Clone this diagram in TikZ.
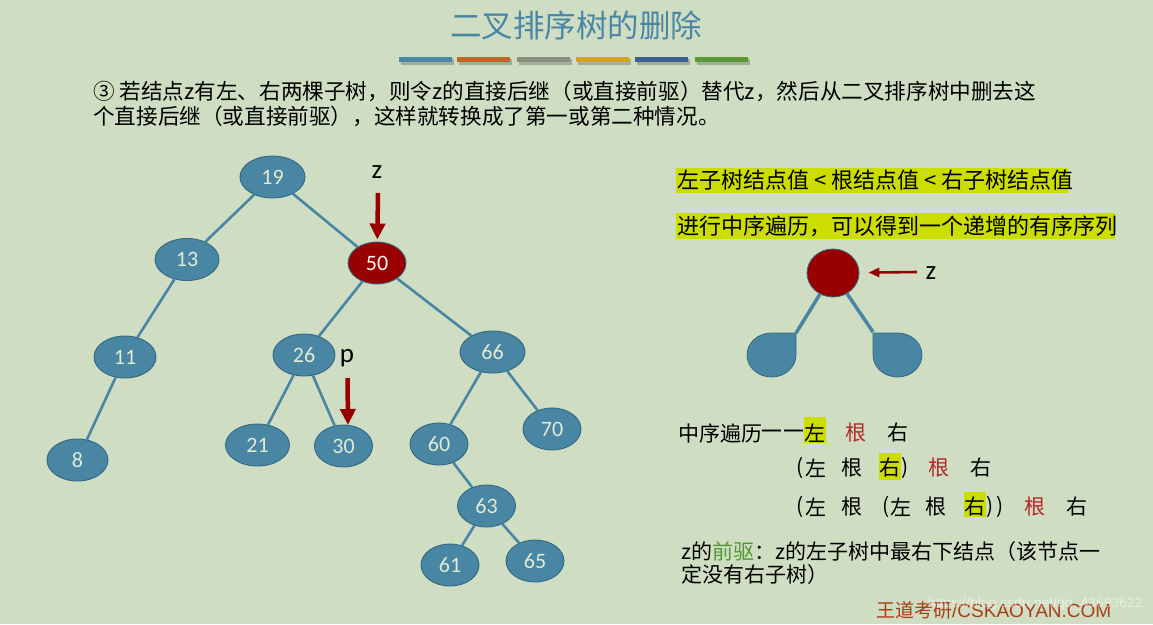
\documentclass[tikz,border=0pt]{standalone}
\usepackage{fontspec}
\setmainfont{Liberation Sans}
\newfontfamily\cjk{Noto Sans CJK SC}
\newfontfamily\cjkdash[FakeBold=2.5,FakeStretch=1.15]{Noto Sans CJK SC}
\newfontfamily\carl{Carlito}
\usetikzlibrary{shapes.geometric,arrows.meta}
\definecolor{bg}{RGB}{207,222,195}
\definecolor{titleblue}{RGB}{74,134,166}
\definecolor{b1}{RGB}{74,136,168}
\definecolor{b2}{RGB}{192,103,42}
\definecolor{b3}{RGB}{138,144,128}
\definecolor{b4}{RGB}{212,168,0}
\definecolor{b5}{RGB}{58,96,144}
\definecolor{b6}{RGB}{90,154,53}
\definecolor{nodeblue}{RGB}{72,134,163}
\definecolor{nodeborder}{RGB}{52,104,130}
\definecolor{nodetext}{RGB}{226,234,212}
\definecolor{darkred}{RGB}{153,0,0}
\definecolor{hl}{RGB}{204,221,0}
\definecolor{genred}{RGB}{180,40,40}
\definecolor{qgreen}{RGB}{84,150,50}
\definecolor{footred}{RGB}{170,60,20}
\tikzset{
  tn/.style={ellipse, draw=nodeborder, fill=nodeblue, line width=0.9pt,
    minimum height=42pt, minimum width=#1, inner sep=0pt, text=nodetext,
    font=\carl\fontsize{22}{22}\selectfont},
  tn/.default=58pt,
  edge/.style={draw=nodeblue, line width=2.6pt},
  bigarrow/.style={draw=darkred, line width=4.5pt, -{Triangle[width=15pt,length=16pt]}},
  smallarrow/.style={draw=darkred, line width=2.6pt, -{Triangle[width=9pt,length=11pt]}},
  lbl/.style={font=\carl\fontsize{27}{27}\selectfont, inner sep=0pt},
  ch/.style={font=\cjk\fontsize{21}{21}\selectfont, inner sep=0pt},
  para/.style={font=\cjk\fontsize{21.6}{21.6}\selectfont, inner sep=0pt, anchor=west},
  blob/.style={fill=nodeblue, draw=nodeborder, line width=0.8pt},
}
\begin{document}
\begin{tikzpicture}[x=1pt,y=-1pt]
\fill[bg] (0,0) rectangle (1153,624);
\useasboundingbox (0,0) rectangle (1153,624);

% title
\node[font=\cjk\fontsize{31.5}{31.5}\selectfont, text=titleblue, inner sep=0pt] (title) at (576,25) {二叉排序树的删除};
\foreach \x/\c in {399/b1,457/b2,517/b3,576/b4,635/b5,695/b6}{
  \fill[black,opacity=0.22] (\x+1.5,58.5) rectangle ++(53,6);
  \fill[\c] (\x,56.5) rectangle ++(53,5.5);
}

% paragraph
\node[para] (p1) at (93,91) {③ 若结点z有左、右两棵子树，则令z的直接后继（或直接前驱）替代z，然后从二叉排序树中删去这};
\node[para] (p2) at (93,116) {个直接后继（或直接前驱），这样就转换成了第一或第二种情况。};

% tree
\node[tn=65pt] (n19) at (272.5,177) {19};
\node[tn=64pt] (n13) at (187,259.5) {13};
\node[tn, fill=darkred, text=white!92!gray] (n50) at (377,263) {50};
\node[tn=62pt] (n11) at (125,357) {11};
\node[tn=62pt] (n26) at (304,355) {26};
\node[tn=65pt] (n66) at (492.5,352) {66};
\node[tn=61pt] (n8) at (77.5,460) {8};
\node[tn=64pt] (n21) at (257.5,445) {21};
\node[tn] (n30) at (343.5,446) {30};
\node[tn] (n70) at (552,429) {70};
\node[tn] (n60) at (439,444) {60};
\node[tn] (n63) at (486.5,506) {63};
\node[tn] (n61) at (450,565) {61};
\node[tn] (n65) at (535,561) {65};

\foreach \a/\b in {19/13,19/50,13/11,11/8,50/26,50/66,26/21,26/30,66/60,66/70,60/63,63/61,63/65}
  \draw[edge] (n\a) -- (n\b);

\node[lbl] (zl) at (377,172) {z};
\coordinate (za) at (378,193);
\draw[bigarrow, shorten >=2pt] (za) -- (n50);
\node[lbl] (pl) at (347,358) {p};
\coordinate (pa) at (347.5,378);
\coordinate (pt) at (348,425);
\draw[bigarrow] (pa) -- (pt);

% right side highlighted statements
\fill[hl] (676,168) rectangle (1068,193);
\node[ch, anchor=west, font=\cjk\fontsize{22}{22}\selectfont] (s1) at (677,180.5) {左子树结点值 < 根结点值 < 右子树结点值};
\fill[hl] (676,213) rectangle (1115,239);
\node[ch, anchor=west, font=\cjk\fontsize{22}{22}\selectfont] (s2) at (677,226) {进行中序遍历，可以得到一个递增的有序序列};

% schematic
\node[ellipse, draw=nodeborder, fill=darkred, line width=0.8pt, minimum width=52pt, minimum height=48pt, inner sep=0pt] (root) at (833,273) {};
\coordinate (lc) at (796,333);
\coordinate (rc) at (873,332);
\draw[edge, line width=3.5pt] (root) -- (lc);
\draw[edge, line width=3.5pt] (root) -- (rc);
\draw[blob] (796,355) arc[start angle=0, end angle=270, x radius=24.5, y radius=22] -- (796,333) -- cycle;
\draw[blob] (897.5,333) arc[start angle=-90, end angle=180, x radius=24.5, y radius=22] -- (873,333) -- cycle;
\coordinate (zr) at (917,272);
\draw[smallarrow, shorten >=9pt] (zr) -- (root);
\node[lbl] (zrl) at (931,273) {z};

% inorder lines
\fill[hl] (804,417) rectangle (826,443);
\fill[hl] (879,453) rectangle (901,480);
\fill[hl] (964,492) rectangle (986,517);
\node[ch, anchor=west] (io) at (678,433) {中序遍历};
\node[ch, anchor=east, font=\cjkdash\fontsize{20}{20}\selectfont] (dash) at (804,433) {—\hspace{1.5pt}—};
\node[ch] (a1) at (815,433) {左};
\node[ch, text=genred] (a2) at (856,433) {根};
\node[ch] (a3) at (898,433) {右};

\node[ch] (b0) at (800.5,468) {(};
\node[ch] (b1n) at (816,468) {左};
\node[ch] (b2n) at (852,468) {根};
\node[ch] (b3n) at (890,468) {右};
\node[ch] (b4n) at (905,468) {)};
\node[ch, text=genred] (b5n) at (939,468) {根};
\node[ch] (b6n) at (981,468) {右};

\node[ch] (c0) at (800.5,507) {(};
\node[ch] (c1) at (816,507) {左};
\node[ch] (c2) at (852,507) {根};
\node[ch] (c3) at (886.5,507) {(};
\node[ch] (c4) at (901,507) {左};
\node[ch] (c5) at (936,507) {根};
\node[ch] (c6) at (975,507) {右};
\node[ch] (c7) at (990,507) {)};
\node[ch] (c8) at (1000,507) {)};
\node[ch, text=genred] (c9) at (1035,507) {根};
\node[ch] (c10) at (1077,507) {右};

% predecessor note
\node[ch, anchor=west] (q1) at (681,552) {z的\textcolor{qgreen}{前驱}：z的左子树中最右下结点（该节点一};
\node[ch, anchor=west] (q2) at (681,575) {定没有右子树）};

% footer and watermark
\node[anchor=west, inner sep=0pt, text=footred, font=\fontsize{19}{19}\selectfont] (foot) at (876,610) {{\cjk 王道考研}/CSKAOYAN.COM};
\node[anchor=east, inner sep=0pt, text=white, opacity=0.5, font=\fontsize{14}{14}\selectfont] (wm) at (1143,604) {https://blog.csdn.net/qq\_43693622};
\end{tikzpicture}
\end{document}
